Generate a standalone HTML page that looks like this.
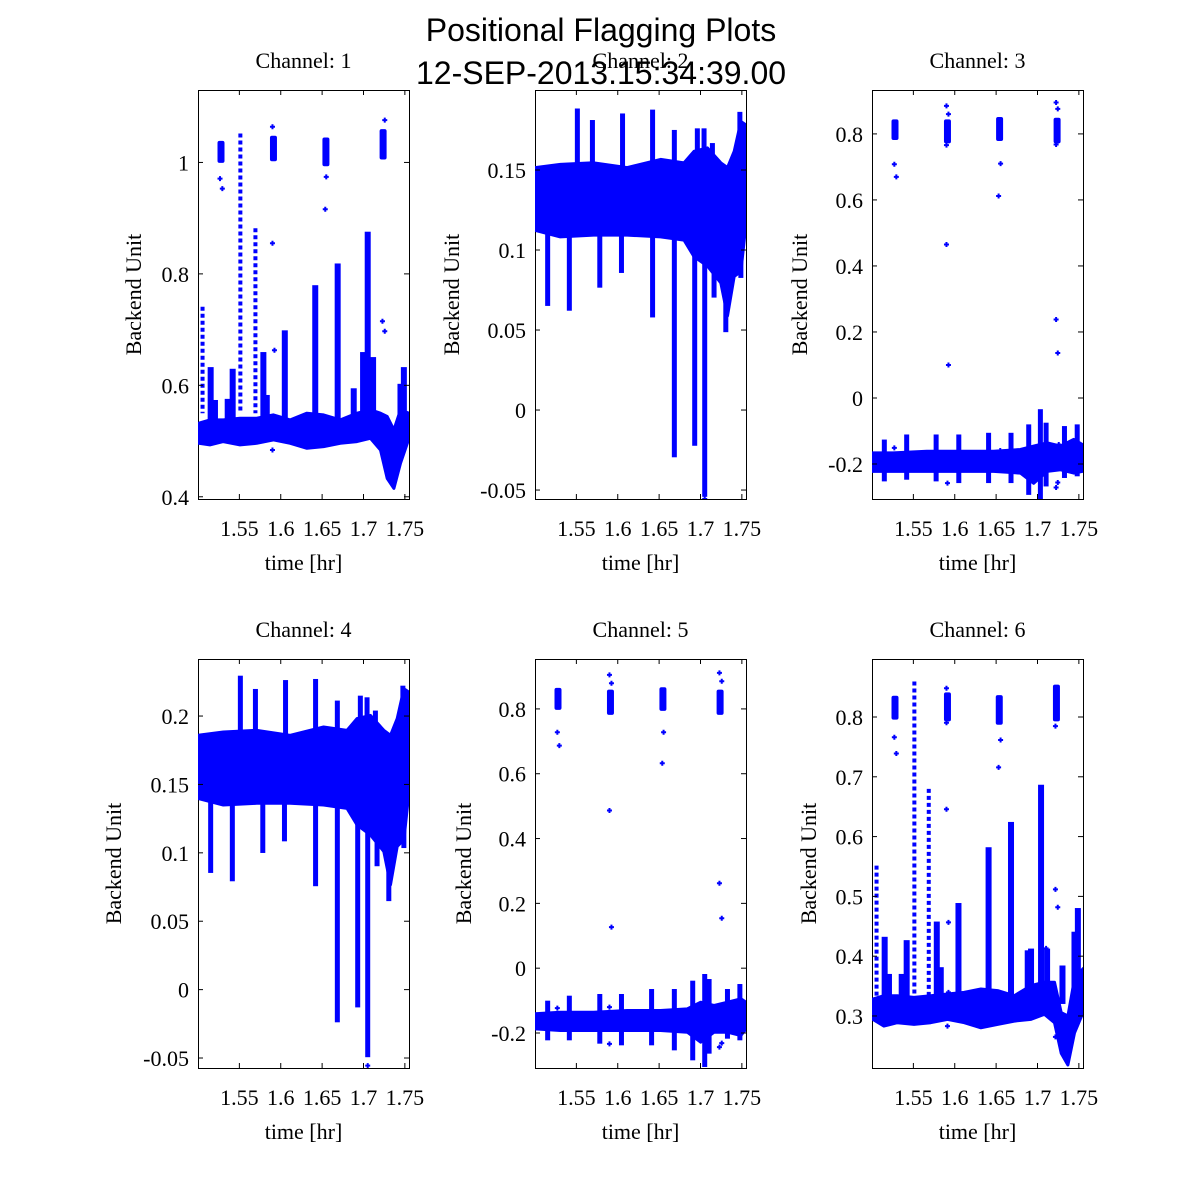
<!DOCTYPE html>
<html><head><meta charset="utf-8"><title>Positional Flagging Plots</title>
<style>
html,body{margin:0;padding:0;background:#fff;}
svg{display:block;}
.tk{font-family:"Liberation Serif",serif;font-size:22px;fill:#000;}
.tt{font-family:"Liberation Sans",sans-serif;font-size:32px;fill:#000;}
</style></head>
<body>
<svg id="fig" width="1200" height="1200" viewBox="0 0 1200 1200" xmlns="http://www.w3.org/2000/svg">
<rect x="0" y="0" width="1200" height="1200" fill="#fff"/>
</svg>
<script>
// ---------- shared axis data ----------
const xTicks = [1.55, 1.6, 1.65, 1.7, 1.75];
const xTickLabels = ["1.55", "1.6", "1.65", "1.7", "1.75"];
const timeDomain = [1.5, 1.755];

// ---------- Channel 1 ----------
const p1YTicks = [0.4, 0.6, 0.8, 1];
const p1YLabels = ["0.4", "0.6", "0.8", "1"];
const p1Times = [1.501, 1.5144, 1.5306, 1.5508, 1.571, 1.5912, 1.6114, 1.6316, 1.6518, 1.672, 1.6922, 1.7084, 1.7205, 1.7286, 1.7367, 1.7447, 1.755];
const p1Lo = [0.496, 0.493, 0.499, 0.493, 0.496, 0.502, 0.496, 0.487, 0.490, 0.496, 0.499, 0.505, 0.484, 0.433, 0.415, 0.460, 0.505];
const p1Hi = [0.532, 0.538, 0.538, 0.541, 0.541, 0.547, 0.538, 0.550, 0.547, 0.538, 0.550, 0.556, 0.550, 0.544, 0.520, 0.556, 0.550];
const p1SpikeT = [1.5153, 1.5205, 1.5359, 1.5419, 1.579, 1.5831, 1.6049, 1.6417, 1.6688, 1.6882, 1.6995, 1.7051, 1.7116, 1.7447, 1.7488];
const p1SpikeLo = [0.52, 0.52, 0.52, 0.52, 0.52, 0.52, 0.52, 0.52, 0.52, 0.52, 0.52, 0.52, 0.52, 0.52, 0.52];
const p1SpikeHi = [0.630, 0.571, 0.573, 0.627, 0.657, 0.580, 0.696, 0.777, 0.816, 0.592, 0.657, 0.873, 0.648, 0.600, 0.630];
const p1DotT = [1.5055, 1.5512, 1.5694];
const p1DotLo = [0.55, 0.55, 0.55];
const p1DotHi = [0.741, 1.052, 0.882];
const p1ClT = [1.5278, 1.5912, 1.6546, 1.7237];
const p1ClLo = [1.001, 1.004, 0.995, 1.007];
const p1ClHi = [1.037, 1.046, 1.043, 1.058];
const p1OutT = [1.5266, 1.5294, 1.59, 1.59, 1.5924, 1.59, 1.655, 1.6538, 1.7257, 1.7229, 1.7257];
const p1OutV = [0.971, 0.953, 1.064, 0.855, 0.663, 0.484, 0.974, 0.916, 1.076, 0.715, 0.697];

// ---------- Channel 2 ----------
const p2YTicks = [-0.05, 0, 0.05, 0.1, 0.15];
const p2YLabels = ["-0.05", "0", "0.05", "0.1", "0.15"];
const p2Times = [1.5, 1.5306, 1.571, 1.6114, 1.6518, 1.6801, 1.6922, 1.7084, 1.7245, 1.7326, 1.7407, 1.7488, 1.755];
const p2Lo = [0.1123, 0.1082, 0.1093, 0.1093, 0.1082, 0.1062, 0.0959, 0.0900, 0.0794, 0.0588, 0.0835, 0.0866, 0.1165];
const p2Hi = [0.1515, 0.1535, 0.1545, 0.1515, 0.1566, 0.1545, 0.1617, 0.1638, 0.1545, 0.1515, 0.1617, 0.1803, 0.1782];
const p2SpikeT = [1.5153, 1.5415, 1.5783, 1.6045, 1.6421, 1.6684, 1.6930, 1.7051, 1.7164, 1.7306, 1.7488, 1.5512, 1.5694, 1.6058, 1.6421, 1.6684, 1.6962, 1.7043, 1.7144, 1.7476];
const p2SpikeLo = [0.066, 0.063, 0.0774, 0.0866, 0.0588, -0.0286, -0.0214, -0.0533, 0.0712, 0.0496, 0.0835, 0.1515, 0.1515, 0.1515, 0.1515, 0.1515, 0.1515, 0.1515, 0.1515, 0.1515];
const p2SpikeHi = [0.11, 0.11, 0.11, 0.11, 0.11, 0.11, 0.11, 0.11, 0.11, 0.11, 0.11, 0.1875, 0.1803, 0.1844, 0.1868, 0.1741, 0.1751, 0.1751, 0.1659, 0.1854];
const p2DotT = [];
const p2DotLo = [];
const p2DotHi = [];
const p2ClT = [];
const p2ClLo = [];
const p2ClHi = [];
const p2OutT = [1.7051];
const p2OutV = [-0.0556];

// ---------- Channel 3 ----------
const p3YTicks = [-0.2, 0, 0.2, 0.4, 0.6, 0.8];
const p3YLabels = ["-0.2", "0", "0.2", "0.4", "0.6", "0.8"];
const p3Times = [1.5003, 1.5258, 1.5662, 1.6066, 1.647, 1.6793, 1.6954, 1.7116, 1.7278, 1.7439, 1.754];
const p3Lo = [-0.2225, -0.2225, -0.2225, -0.2225, -0.2225, -0.2276, -0.2583, -0.2225, -0.2174, -0.2276, -0.2225];
const p3Hi = [-0.1663, -0.1663, -0.1612, -0.1612, -0.1612, -0.1560, -0.1458, -0.1356, -0.1458, -0.1254, -0.1407];
const p3SpikeT = [1.5149, 1.5419, 1.5775, 1.6049, 1.6409, 1.668, 1.6894, 1.7035, 1.7104, 1.7326, 1.748];
const p3SpikeLo = [-0.2481, -0.2430, -0.2481, -0.2532, -0.2532, -0.2532, -0.2890, -0.3043, -0.2634, -0.2378, -0.2327];
const p3SpikeHi = [-0.1305, -0.1151, -0.1151, -0.1151, -0.1100, -0.1100, -0.0845, -0.0385, -0.0794, -0.0896, -0.0845];
const p3DotT = [];
const p3DotLo = [];
const p3DotHi = [];
const p3ClT = [1.5278, 1.5912, 1.6542, 1.7237];
const p3ClLo = [0.7847, 0.7744, 0.7816, 0.7744];
const p3ClHi = [0.8409, 0.8409, 0.8481, 0.8460];
const p3OutT = [1.527, 1.5294, 1.59, 1.5924, 1.59, 1.59, 1.5924, 1.6554, 1.653, 1.7225, 1.7245, 1.7225, 1.7225, 1.7245, 1.527, 1.5912, 1.655, 1.7245, 1.7225, 1.7257];
const p3OutV = [0.708, 0.670, 0.885, 0.860, 0.766, 0.465, 0.100, 0.710, 0.612, 0.895, 0.876, 0.768, 0.2376, 0.1364, -0.151, -0.258, -0.159, -0.256, -0.271, -0.141];

// ---------- Channel 4 ----------
const p4YTicks = [-0.05, 0, 0.05, 0.1, 0.15, 0.2];
const p4YLabels = ["-0.05", "0", "0.05", "0.1", "0.15", "0.2"];
const p4Times = [1.5, 1.5306, 1.571, 1.6114, 1.6518, 1.6801, 1.6922, 1.7084, 1.7245, 1.7326, 1.7407, 1.7488, 1.755];
const p4Lo = [0.1398, 0.1350, 0.1362, 0.1362, 0.1350, 0.1325, 0.1204, 0.1131, 0.1010, 0.0767, 0.1046, 0.1095, 0.1447];
const p4Hi = [0.1859, 0.1883, 0.1896, 0.1859, 0.1920, 0.1896, 0.1981, 0.2005, 0.1896, 0.1859, 0.1981, 0.2199, 0.2175];
const p4SpikeT = [1.5153, 1.5415, 1.5783, 1.6045, 1.6421, 1.6684, 1.6930, 1.7051, 1.7164, 1.7306, 1.7488, 1.5512, 1.5694, 1.6058, 1.6421, 1.6684, 1.6962, 1.7043, 1.7144, 1.7476];
const p4SpikeLo = [0.0864, 0.0803, 0.1010, 0.1095, 0.0767, -0.0228, -0.0119, -0.0483, 0.0913, 0.0658, 0.1046, 0.1859, 0.1859, 0.1859, 0.1859, 0.1859, 0.1859, 0.1859, 0.1859, 0.1859];
const p4SpikeHi = [0.137, 0.137, 0.137, 0.137, 0.137, 0.137, 0.137, 0.137, 0.137, 0.137, 0.137, 0.2284, 0.2187, 0.2252, 0.2260, 0.2102, 0.2138, 0.2126, 0.2029, 0.2211];
const p4DotT = [];
const p4DotLo = [];
const p4DotHi = [];
const p4ClT = [];
const p4ClLo = [];
const p4ClHi = [];
const p4OutT = [1.7051];
const p4OutV = [-0.0556];

// ---------- Channel 5 ----------
const p5YTicks = [-0.2, 0, 0.2, 0.4, 0.6, 0.8];
const p5YLabels = ["-0.2", "0", "0.2", "0.4", "0.6", "0.8"];
const p5Times = [1.5, 1.5306, 1.571, 1.6114, 1.6518, 1.6841, 1.7003, 1.7164, 1.7326, 1.7488, 1.755];
const p5Lo = [-0.1872, -0.1923, -0.1923, -0.1923, -0.1923, -0.1975, -0.2283, -0.1975, -0.1975, -0.2077, -0.1872];
const p5Hi = [-0.1409, -0.1358, -0.1358, -0.1306, -0.1306, -0.1255, -0.1049, -0.1152, -0.1049, -0.0946, -0.1049];
const p5SpikeT = [1.5153, 1.5415, 1.5783, 1.6045, 1.6409, 1.6684, 1.6906, 1.7051, 1.7104, 1.7326, 1.7476];
const p5SpikeLo = [-0.218, -0.218, -0.2283, -0.2334, -0.2334, -0.2489, -0.2797, -0.3003, -0.2591, -0.2129, -0.218];
const p5SpikeHi = [-0.1049, -0.0895, -0.0843, -0.0843, -0.0689, -0.0689, -0.0432, -0.0226, -0.0381, -0.0689, -0.0535];
const p5DotT = [];
const p5DotLo = [];
const p5DotHi = [];
const p5ClT = [1.5278, 1.5912, 1.6546, 1.7237];
const p5ClLo = [0.800, 0.7846, 0.7969, 0.7846];
const p5ClHi = [0.8617, 0.8566, 0.8638, 0.8566];
const p5OutT = [1.527, 1.5294, 1.59, 1.5924, 1.59, 1.5924, 1.6554, 1.6538, 1.7229, 1.7257, 1.7229, 1.7257, 1.527, 1.59, 1.59, 1.7229, 1.7257, 1.7229];
const p5OutV = [0.728, 0.6869, 0.9049, 0.8792, 0.4864, 0.1265, 0.728, 0.6324, 0.911, 0.8853, 0.2622, 0.1542, -0.1234, -0.1203, -0.2334, -0.2437, -0.2314, -0.1255];

// ---------- Channel 6 ----------
const p6YTicks = [0.3, 0.4, 0.5, 0.6, 0.7, 0.8];
const p6YLabels = ["0.3", "0.4", "0.5", "0.6", "0.7", "0.8"];
const p6Times = [1.501, 1.5144, 1.5306, 1.5508, 1.571, 1.5912, 1.6114, 1.6316, 1.6518, 1.672, 1.6922, 1.7084, 1.7205, 1.7286, 1.7367, 1.7447, 1.755];
const p6Lo = [0.2943, 0.2830, 0.2887, 0.2859, 0.2887, 0.2943, 0.2887, 0.2802, 0.2859, 0.2915, 0.2943, 0.3028, 0.2887, 0.2378, 0.2181, 0.2717, 0.3056];
const p6Hi = [0.3282, 0.3339, 0.3339, 0.3311, 0.3339, 0.3367, 0.3395, 0.3452, 0.3424, 0.3339, 0.3508, 0.3565, 0.3565, 0.3056, 0.3000, 0.3621, 0.3791];
const p6SpikeT = [1.5153, 1.5205, 1.5359, 1.5419, 1.5783, 1.5831, 1.6045, 1.6409, 1.6680, 1.6882, 1.6922, 1.7043, 1.7116, 1.7302, 1.7447, 1.7488];
const p6SpikeLo = [0.3226, 0.3226, 0.3226, 0.3226, 0.3226, 0.3226, 0.3226, 0.3226, 0.3226, 0.3226, 0.3226, 0.3226, 0.3226, 0.3226, 0.3226, 0.3226];
const p6SpikeHi = [0.4299, 0.3678, 0.3678, 0.4243, 0.4554, 0.3791, 0.4864, 0.5797, 0.622, 0.4073, 0.4102, 0.6842, 0.4102, 0.3819, 0.4384, 0.4780];
const p6DotT = [1.5055, 1.5512, 1.5686];
const p6DotLo = [0.3339, 0.3339, 0.3339];
const p6DotHi = [0.5514, 0.8593, 0.6797];
const p6ClT = [1.5278, 1.5912, 1.6538, 1.7229];
const p6ClLo = [0.7972, 0.7944, 0.7887, 0.7944];
const p6ClHi = [0.8339, 0.8396, 0.8350, 0.8525];
const p6OutT = [1.527, 1.5294, 1.59, 1.59, 1.59, 1.5924, 1.5924, 1.5912, 1.6554, 1.653, 1.7217, 1.7217, 1.7245, 1.7217, 1.7104];
const p6OutV = [0.7661, 0.739, 0.848, 0.7904, 0.6458, 0.4565, 0.3395, 0.283, 0.7616, 0.7158, 0.7847, 0.5118, 0.4819, 0.265, 0.413];

// ---------- layout (pixel geometry, not data) ----------
const NS = "http://www.w3.org/2000/svg";
const svg = document.getElementById("fig");
function mk(tag, attrs, parent) {
  const e = document.createElementNS(NS, tag);
  for (const k in attrs) e.setAttribute(k, attrs[k]);
  (parent || svg).appendChild(e);
  return e;
}
const panels = [
  {n:1, x0:198, x1:409, y0:90, y1:499, vmin:0.396, vmax:1.13, yl:133, sw:6,
   ticks:p1YTicks, labels:p1YLabels, T:p1Times, L:p1Lo, H:p1Hi, sT:p1SpikeT, sL:p1SpikeLo, sH:p1SpikeHi, dT:p1DotT, dL:p1DotLo, dH:p1DotHi, cT:p1ClT, cL:p1ClLo, cH:p1ClHi, oT:p1OutT, oV:p1OutV},
  {n:2, x0:535, x1:746, y0:90, y1:499, vmin:-0.0556, vmax:0.2, yl:451, sw:5,
   ticks:p2YTicks, labels:p2YLabels, T:p2Times, L:p2Lo, H:p2Hi, sT:p2SpikeT, sL:p2SpikeLo, sH:p2SpikeHi, dT:p2DotT, dL:p2DotLo, dH:p2DotHi, cT:p2ClT, cL:p2ClLo, cH:p2ClHi, oT:p2OutT, oV:p2OutV},
  {n:3, x0:872, x1:1083, y0:90, y1:499, vmin:-0.306, vmax:0.933, yl:799, sw:5,
   ticks:p3YTicks, labels:p3YLabels, T:p3Times, L:p3Lo, H:p3Hi, sT:p3SpikeT, sL:p3SpikeLo, sH:p3SpikeHi, dT:p3DotT, dL:p3DotLo, dH:p3DotHi, cT:p3ClT, cL:p3ClLo, cH:p3ClHi, oT:p3OutT, oV:p3OutV},
  {n:4, x0:198, x1:409, y0:659, y1:1068, vmin:-0.0573, vmax:0.2417, yl:113, sw:5,
   ticks:p4YTicks, labels:p4YLabels, T:p4Times, L:p4Lo, H:p4Hi, sT:p4SpikeT, sL:p4SpikeLo, sH:p4SpikeHi, dT:p4DotT, dL:p4DotLo, dH:p4DotHi, cT:p4ClT, cL:p4ClLo, cH:p4ClHi, oT:p4OutT, oV:p4OutV},
  {n:5, x0:535, x1:746, y0:659, y1:1068, vmin:-0.308, vmax:0.954, yl:463, sw:5,
   ticks:p5YTicks, labels:p5YLabels, T:p5Times, L:p5Lo, H:p5Hi, sT:p5SpikeT, sL:p5SpikeLo, sH:p5SpikeHi, dT:p5DotT, dL:p5DotLo, dH:p5DotHi, cT:p5ClT, cL:p5ClLo, cH:p5ClHi, oT:p5OutT, oV:p5OutV},
  {n:6, x0:872, x1:1083, y0:659, y1:1068, vmin:0.213, vmax:0.897, yl:808, sw:6,
   ticks:p6YTicks, labels:p6YLabels, T:p6Times, L:p6Lo, H:p6Hi, sT:p6SpikeT, sL:p6SpikeLo, sH:p6SpikeHi, dT:p6DotT, dL:p6DotLo, dH:p6DotHi, cT:p6ClT, cL:p6ClLo, cH:p6ClHi, oT:p6OutT, oV:p6OutV}
];
const BLUE = "#0000ff";

panels.forEach(p => {
  const xs = t => p.x0 + (t - timeDomain[0]) / (timeDomain[1] - timeDomain[0]) * (p.x1 - p.x0);
  const ys = v => p.y1 - (v - p.vmin) / (p.vmax - p.vmin) * (p.y1 - p.y0);
  const g = mk("g", {});
  
  
  const cp = mk("clipPath", {id: "clip" + p.n}, g);
  mk("rect", {x: p.x0, y: p.y0, width: p.x1 - p.x0, height: p.y1 - p.y0}, cp);

  const box = mk("rect", {x: p.x0 + 0.5, y: p.y0 + 0.5, width: p.x1 - p.x0, height: p.y1 - p.y0, fill: "#fff", stroke: "#000", "stroke-width": 1}, g);
  
  

  const dg = mk("g", {"clip-path": "url(#clip" + p.n + ")"}, g);
  
  

  let d = "";
  p.T.forEach((t, i) => { d += (i ? "L" : "M") + xs(t).toFixed(1) + " " + ys(p.H[i]).toFixed(1); });
  for (let i = p.T.length - 1; i >= 0; i--) d += "L" + xs(p.T[i]).toFixed(1) + " " + ys(p.L[i]).toFixed(1);
  d += "Z";
  const band = mk("path", {d: d, fill: BLUE, stroke: BLUE, "stroke-width": 3, "stroke-linejoin": "round"}, dg);
  
  

  p.sT.forEach((t, i) => {
    const a = ys(p.sH[i]), b = ys(p.sL[i]);
    const r = mk("rect", {x: xs(t) - p.sw / 2, y: Math.min(a, b) - 1.5, width: p.sw, height: Math.abs(b - a) + 3, fill: BLUE}, dg);
    
    
  });
  p.dT.forEach((t, i) => {
    const l = mk("line", {x1: xs(t), x2: xs(t), y1: ys(p.dH[i]), y2: ys(p.dL[i]), stroke: BLUE, "stroke-width": 4, "stroke-dasharray": "4 3"}, dg);
    
    
  });
  p.cT.forEach((t, i) => {
    const a = ys(p.cH[i]), b = ys(p.cL[i]);
    const r = mk("rect", {x: xs(t) - 3.5, y: a - 1, width: 7, height: b - a + 2, rx: 2, fill: BLUE}, dg);
    
    
  });
  p.oT.forEach((t, i) => {
    const x = xs(t), y = ys(p.oV[i]);
    const o = mk("path", {d: "M" + (x - 2.5) + " " + y + "h5M" + x + " " + (y - 2.5) + "v5", stroke: BLUE, "stroke-width": 2}, dg);
    
    
  });

  xTicks.forEach((t, i) => {
    const x = xs(t);
    mk("line", {x1: x, x2: x, y1: p.y1, y2: p.y1 - 5, stroke: "#000"}, g);
    mk("line", {x1: x, x2: x, y1: p.y0, y2: p.y0 + 5, stroke: "#000"}, g);
    const tx = mk("text", {x: x, y: p.y1 + 37, "text-anchor": "middle", class: "tk"}, g);
    tx.textContent = xTickLabels[i];
    
    
  });
  p.ticks.forEach((v, i) => {
    const y = ys(v);
    mk("line", {x1: p.x0, x2: p.x0 + 5, y1: y, y2: y, stroke: "#000"}, g);
    mk("line", {x1: p.x1, x2: p.x1 - 5, y1: y, y2: y, stroke: "#000"}, g);
    const ty = mk("text", {x: p.x0 - 9, y: y + 8, "text-anchor": "end", class: "tk"}, g);
    ty.textContent = p.labels[i];
    
    
  });

  const cx = (p.x0 + p.x1) / 2;
  const xl = mk("text", {x: cx, y: p.y1 + 71, "text-anchor": "middle", class: "tk"}, g);
  xl.textContent = "time [hr]";
  
  

  const yc = (p.y0 + p.y1) / 2;
  const yl = mk("text", {x: p.yl, y: yc, "text-anchor": "middle", class: "tk", transform: "rotate(-90 " + p.yl + " " + yc + ")", dy: "8"}, g);
  yl.textContent = "Backend Unit";
  
  

  const st = mk("text", {x: cx, y: p.y0 - 22, "text-anchor": "middle", class: "tk"}, g);
  st.textContent = "Channel: " + p.n;
  
  
});

const t1 = mk("text", {x: 601, y: 41, "text-anchor": "middle", class: "tt"});
t1.textContent = "Positional Flagging Plots";


const t2 = mk("text", {x: 601, y: 84, "text-anchor": "middle", class: "tt"});
t2.textContent = "12-SEP-2013.15:34:39.00";


</script>
</body></html>
